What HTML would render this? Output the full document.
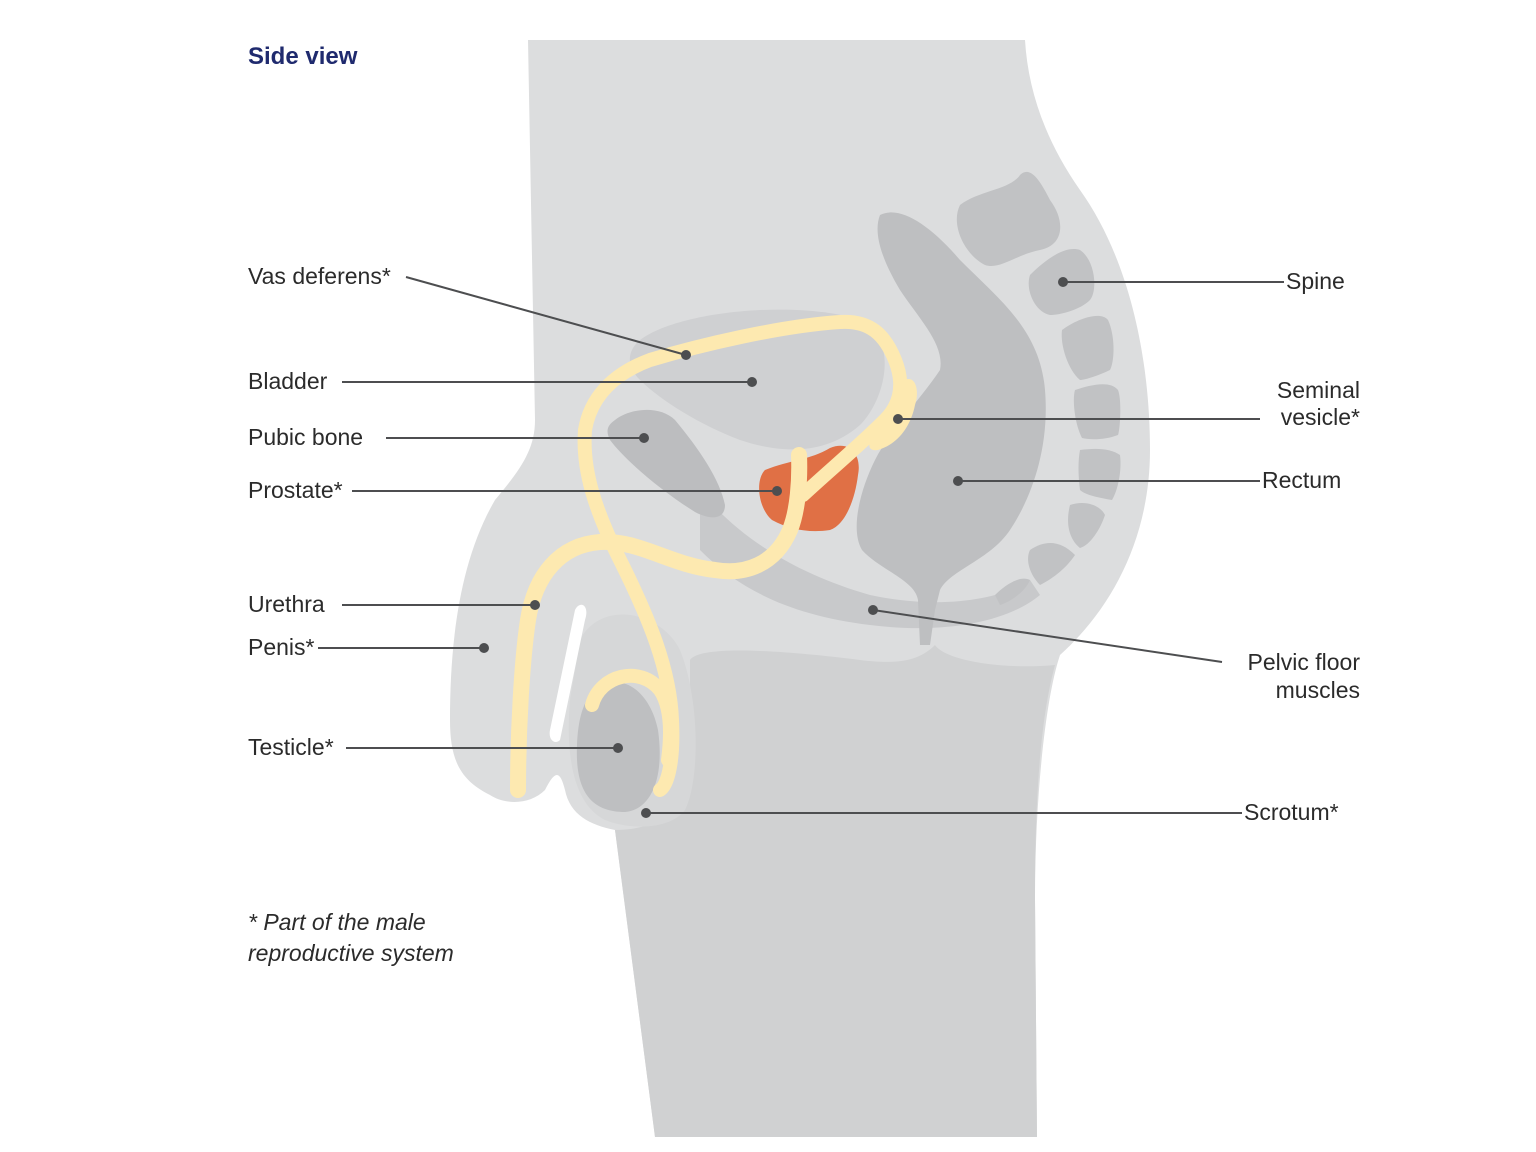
<!DOCTYPE html>
<html><head><style>
html,body{margin:0;padding:0;background:#fff}
svg{display:block}
text{font-family:"Liberation Sans",sans-serif;font-size:23px;fill:#2b2b2b}
</style></head><body>
<svg width="1536" height="1152" viewBox="0 0 1536 1152" xmlns="http://www.w3.org/2000/svg">
<path d="M528,40 L1025,40 C1028,90 1045,140 1080,190 C1130,260 1150,360 1150,450 C1150,540 1110,610 1060,655 C1045,700 1035,800 1035,900 L1037,1137 L655,1137 L615,830 C590,825 570,815 565,790 C560,770 555,770 545,790 C530,805 505,805 490,795 C460,780 450,760 450,720 C450,640 460,560 495,500 C520,470 535,450 535,420 Z" fill="#dcddde"/>
<path d="M690,660 C700,645 780,650 860,660 C900,665 920,660 935,645 C945,660 1000,670 1055,665 C1040,720 1035,800 1035,900 L1037,1137 L655,1137 L615,830 C650,830 685,815 690,780 Z" fill="#d0d1d2"/>
<path d="M580,640 C600,600 660,610 680,650 C700,700 700,780 685,810 C670,830 630,830 605,820 C575,805 565,760 570,700 Z" fill="#d6d7d8"/>
<path d="M575,610 C580,600 590,605 585,620 L560,740 C555,745 548,740 550,730 Z" fill="#fff"/>
<path d="M595,690 C620,670 650,690 658,730 C665,780 650,810 625,812 C590,812 575,790 577,745 C578,720 583,700 595,690 Z" fill="#bebfc1"/>
<path d="M700,490 C740,540 800,575 870,595 C940,610 1000,600 1030,580 L1040,595 C1010,620 950,635 870,625 C790,615 740,590 700,550 Z" fill="#c8c9cb"/>
<path d="M640,340 C680,310 800,300 860,320 C900,340 885,400 860,425 C820,460 770,450 740,440 C700,425 660,400 640,380 C625,365 628,350 640,340 Z" fill="#cfd0d2"/>
<path d="M615,420 C630,408 660,405 675,420 C700,450 720,480 725,505 C725,520 710,520 695,512 C660,490 625,460 610,440 C605,430 608,425 615,420 Z" fill="#bcbdbf"/>
<path d="M880,215 C900,205 930,225 960,260 C1000,300 1040,330 1045,390 C1050,450 1030,500 1010,530 C990,560 950,570 940,590 L935,610 L930,645 L920,645 L918,600 C915,580 880,570 862,550 C850,530 860,490 875,460 C890,430 920,400 940,370 C945,345 920,320 900,290 C885,265 872,235 880,215 Z" fill="#bebfc1"/>
<g fill="#c1c2c4">
<path d="M960,205 C980,190 1010,190 1020,175 C1030,165 1040,180 1050,200 C1065,220 1065,245 1040,250 C1015,255 1000,270 985,265 C965,255 950,225 960,205 Z"/>
<path d="M1030,275 C1045,260 1065,245 1080,250 C1095,260 1098,290 1090,300 C1080,310 1060,315 1050,315 C1035,312 1025,290 1030,275 Z"/>
<path d="M1062,330 C1075,320 1100,310 1108,320 C1115,335 1115,360 1110,370 C1100,375 1085,380 1080,380 C1068,370 1060,345 1062,330 Z"/>
<path d="M1075,390 C1090,385 1110,380 1118,390 C1122,400 1120,430 1118,435 C1105,440 1090,440 1082,438 C1075,425 1072,400 1075,390 Z"/>
<path d="M1080,450 C1095,448 1110,448 1120,455 C1122,470 1118,490 1112,500 C1100,498 1085,495 1080,490 C1078,475 1078,460 1080,450 Z"/>
<path d="M1070,505 C1085,500 1100,505 1105,515 C1100,530 1090,545 1080,548 C1070,540 1065,525 1070,505 Z"/>
<path d="M1030,550 C1045,540 1060,540 1075,555 C1065,570 1050,580 1040,585 C1030,575 1025,560 1030,550 Z"/>
<path d="M995,595 C1005,585 1020,575 1030,580 C1025,592 1010,602 1000,605 Z"/>
</g>
<path d="M765,470 C790,460 810,460 830,448 C850,440 862,455 858,475 C855,500 845,525 830,530 C810,533 790,530 772,520 C758,508 755,480 765,470 Z" fill="#e07045"/>
<g fill="none" stroke="#fde9b0" stroke-linecap="round" stroke-linejoin="round">
<path d="M799,455 C800,480 798,510 790,530 C775,565 745,575 715,570 C670,565 640,540 600,542 C560,545 535,575 528,620 C522,660 518,730 518,790" stroke-width="16"/>
<path d="M803,495 C830,470 860,445 885,420 C900,405 905,385 895,360 C885,335 870,320 840,322 C780,326 700,345 650,360 C610,375 590,400 585,430 C582,470 595,510 620,560 C650,620 670,670 672,720 C674,760 668,785 660,790" stroke-width="14"/>
<path d="M592,705 C600,675 640,665 660,690 C670,705 672,730 668,760" stroke-width="14"/>
</g>
<path d="M905,380 C915,375 920,390 915,405 C910,430 895,445 878,450 C865,452 868,440 878,430 C890,420 895,400 905,380 Z" fill="#fde9b0"/>
<g stroke="#4d4e50" stroke-width="2" fill="none">
<line x1="406" y1="277" x2="686" y2="355"/>
<line x1="342" y1="382" x2="752" y2="382"/>
<line x1="386" y1="438" x2="644" y2="438"/>
<line x1="352" y1="491" x2="777" y2="491"/>
<line x1="342" y1="605" x2="535" y2="605"/>
<line x1="318" y1="648" x2="484" y2="648"/>
<line x1="346" y1="748" x2="618" y2="748"/>
<line x1="646" y1="813" x2="1242" y2="813"/>
<line x1="1063" y1="282" x2="1284" y2="282"/>
<line x1="898" y1="419" x2="1260" y2="419"/>
<line x1="958" y1="481" x2="1260" y2="481"/>
<line x1="873" y1="610" x2="1222" y2="662"/>
</g>
<g fill="#4d4e50">
<circle cx="686" cy="355" r="5"/><circle cx="752" cy="382" r="5"/><circle cx="644" cy="438" r="5"/>
<circle cx="777" cy="491" r="5"/><circle cx="535" cy="605" r="5"/><circle cx="484" cy="648" r="5"/>
<circle cx="618" cy="748" r="5"/><circle cx="646" cy="813" r="5"/><circle cx="1063" cy="282" r="5"/>
<circle cx="898" cy="419" r="5"/><circle cx="958" cy="481" r="5"/><circle cx="873" cy="610" r="5"/>
</g>
<text x="248" y="64" style="font-weight:bold;fill:#1f2a6e;font-size:24px">Side view</text>
<text x="248" y="284">Vas deferens*</text>
<text x="248" y="389">Bladder</text>
<text x="248" y="445">Pubic bone</text>
<text x="248" y="498">Prostate*</text>
<text x="248" y="612">Urethra</text>
<text x="248" y="655">Penis*</text>
<text x="248" y="755">Testicle*</text>
<text x="1286" y="289">Spine</text>
<text x="1360" y="398" text-anchor="end">Seminal</text>
<text x="1360" y="425" text-anchor="end">vesicle*</text>
<text x="1262" y="488">Rectum</text>
<text x="1360" y="670" text-anchor="end">Pelvic floor</text>
<text x="1360" y="698" text-anchor="end">muscles</text>
<text x="1244" y="820">Scrotum*</text>
<text x="248" y="930" style="font-style:italic">* Part of the male</text>
<text x="248" y="961" style="font-style:italic">reproductive system</text>
</svg>
</body></html>
